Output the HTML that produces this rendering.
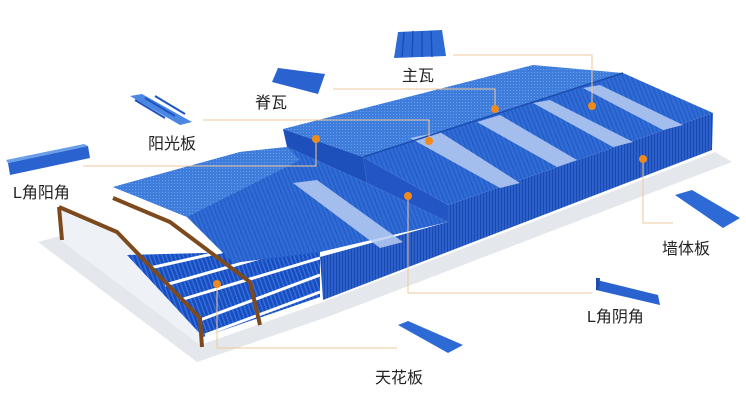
<!DOCTYPE html>
<html><head><meta charset="utf-8"><style>
html,body{margin:0;padding:0;background:#fff;}
svg{display:block;}
text{font-family:"Liberation Sans","Noto Sans CJK SC",sans-serif;font-size:16px;fill:#222;}
</style></head><body>
<svg width="746" height="407" viewBox="0 0 746 407" xmlns="http://www.w3.org/2000/svg">
<defs>
<pattern id="vs" width="3" height="10" patternUnits="userSpaceOnUse"><rect width="3" height="10" fill="#2a5fcc"/><rect width="1" height="10" fill="#1b4aae"/></pattern>
<pattern id="rf" width="4" height="4" patternUnits="userSpaceOnUse" patternTransform="rotate(-22)"><rect width="4" height="4" fill="#2f6cd8"/><rect width="1.3" height="4" fill="#245cc2"/></pattern>
<pattern id="bk" width="3" height="3" patternUnits="userSpaceOnUse"><rect width="3" height="3" fill="#3f7ddc"/><rect width="1" height="1" fill="#6a9ee8"/></pattern>
<pattern id="cl" width="4" height="4" patternUnits="userSpaceOnUse" patternTransform="rotate(-20)"><rect width="4" height="4" fill="#1a4cbc"/><rect width="1.5" height="4" fill="#2f6fe0"/></pattern>
</defs>

<!-- shadows -->
<polygon points="38,242 60,236 200,345 323,302 715,152 732,162 330,316 197,362" fill="#e4e7ec"/>

<!-- interior -->
<polygon points="62,210 117,232 200,320 200,345 60,240" fill="#eef1f5"/>
<polygon points="127,255 320,250 320,297 203,337" fill="url(#cl)"/>
<g stroke="#fff" stroke-width="3">
<line x1="70" y1="215" x2="150" y2="185"/><line x1="90" y1="222" x2="165" y2="195"/>
<line x1="117" y1="235" x2="185" y2="210"/><line x1="135" y1="252" x2="200" y2="240"/>
<line x1="150" y1="268" x2="230" y2="250"/><line x1="165" y1="285" x2="260" y2="258"/>
<line x1="180" y1="300" x2="320" y2="258"/><line x1="200" y1="320" x2="320" y2="275"/>
<line x1="205" y1="335" x2="320" y2="292"/>
</g>
<g stroke="#7d4a1e" stroke-width="4" fill="none" stroke-linejoin="round">
<polyline points="113,198 170,222 250,282 260,325"/>
</g>

<!-- front wall -->
<polygon points="320,257 448,222 448,205 713,113 712,150 323,300" fill="url(#vs)"/>
<!-- lower roof -->
<polygon points="113,187 240,152 287,147 367,183 448,222 320,252 233,263 187,217" fill="url(#rf)"/>
<polygon points="113,187 240,152 287,147 300,160 187,217" fill="url(#bk)"/>
<polygon points="293,183 317,180 403,242 380,248" fill="#b9cdf2" opacity="0.85"/>
<!-- upper back slope -->
<polygon points="283,129 533,65 623,73 363,157" fill="url(#bk)"/>
<!-- left gable / step -->
<polygon points="283,129 363,157 367,183 287,147" fill="#1d50bb"/>
<polygon points="363,157 448,205 448,222 367,183" fill="#2356c4"/>
<!-- upper front slope -->
<polygon points="363,157 623,73 713,113 448,205" fill="url(#rf)"/>
<polygon points="410,138 440,132 520,183 500,188" fill="#b9cdf2" opacity="0.85"/>
<polygon points="477,122 500,115 577,160 557,167" fill="#b9cdf2" opacity="0.85"/>
<polygon points="533,103 550,100 633,142 613,147" fill="#b9cdf2" opacity="0.85"/>
<polygon points="583,88 600,85 683,125 663,130" fill="#b9cdf2" opacity="0.85"/>
<line x1="363" y1="157" x2="623" y2="73" stroke="#1c4db0" stroke-width="1.5"/>

<!-- front frame -->
<g stroke="#7d4a1e" stroke-width="4" fill="none" stroke-linejoin="round">
<polyline points="59,207 117,232 200,318 202,347"/>
<line x1="59" y1="207" x2="62" y2="240"/>
</g>

<!-- leader lines -->
<g stroke="#f0c89a" stroke-width="1" fill="none">
<polyline points="453,55 592,55 592,106"/>
<polyline points="333,89 495,89 495,109"/>
<polyline points="203,120 429,120 429,141"/>
<polyline points="83,166 316,166 316,139"/>
<polyline points="643,159 643,223 673,223"/>
<polyline points="408,196 408,293 592,293"/>
<polyline points="217,284 217,348 397,348"/>
</g>
<g fill="#f08a1c">
<circle cx="592" cy="106" r="4"/><circle cx="495" cy="109" r="4"/><circle cx="429" cy="141" r="4"/>
<circle cx="316" cy="139" r="4"/><circle cx="643" cy="159" r="4"/><circle cx="408" cy="196" r="4"/><circle cx="217" cy="284" r="4"/>
</g>

<!-- icons -->
<polygon points="398,32 442,30 446,56 394,58" fill="#2e6ad6"/>
<g stroke="#1b4eb5" stroke-width="1.5"><line x1="404" y1="32" x2="402" y2="57"/><line x1="413" y1="31" x2="412" y2="57"/><line x1="422" y1="31" x2="422" y2="57"/><line x1="431" y1="31" x2="432" y2="57"/></g>
<polygon points="278,68 325,74 318,94 272,82" fill="#2a62cf"/>
<polygon points="130,96 142,94 192,122 180,125" fill="#4a86e2"/>
<g stroke="#1f55c2" stroke-width="2"><line x1="135" y1="100" x2="165" y2="118"/><line x1="145" y1="98" x2="175" y2="116"/><line x1="155" y1="96" x2="185" y2="114"/></g>
<polygon points="8,163 88,146 90,158 10,175" fill="#2a62cf"/>
<polygon points="8,163 88,146 84,144 6,160" fill="#6a9ee8"/>
<polygon points="675,195 692,190 740,218 723,228" fill="#2e6ad6"/>
<polygon points="597,280 658,295 660,305 596,290" fill="#2a62cf"/>
<polygon points="596,278 600,278 599,290 596,290" fill="#1c4db0"/>
<polygon points="398,325 408,321 463,345 448,353" fill="#2e6ad6"/>

<!-- labels -->
<text x="402" y="81">主瓦</text>
<text x="255" y="108">脊瓦</text>
<text x="148" y="149">阳光板</text>
<text x="13" y="198">L角阳角</text>
<text x="662" y="254">墙体板</text>
<text x="587" y="322">L角阴角</text>
<text x="375" y="383">天花板</text>
</svg>
</body></html>
